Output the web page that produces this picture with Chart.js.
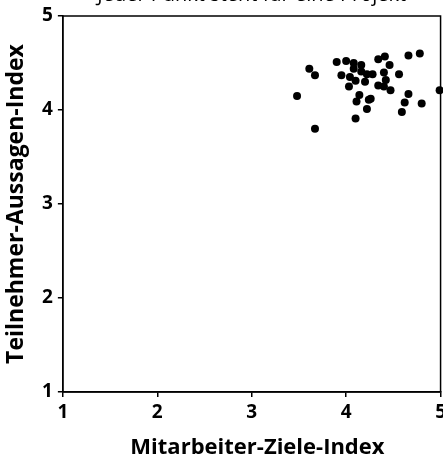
<!DOCTYPE html>
<html>
<head>
<meta charset="utf-8">
<script src="https://cdn.jsdelivr.net/npm/chart.js@4/dist/chart.umd.min.js"></script>
<style>
  html, body { margin: 0; padding: 0; background: #fff; overflow: hidden; width: 443px; height: 459px; }
  #wrap { position: absolute; left: 0; top: -16px; width: 450px; height: 477px; }
</style>
</head>
<body>
<div id="wrap"><canvas id="scatter"></canvas></div>
<script>
// one dot per project
let titleText = "Jeder Punkt steht für eine Projekt"
let xTitle = "Mitarbeiter-Ziele-Index"
let yTitle = "Teilnehmer-Aussagen-Index"
let xTickValues = [1, 2, 3, 4, 5]
let yTickValues = [1, 2, 3, 4, 5]

let zieleIndex = [3.61, 3.67, 3.48, 3.90, 4.00, 4.08, 4.08, 4.16, 3.95, 4.04,
                  4.10, 4.16, 4.22, 4.28, 4.20, 4.03, 4.34, 4.41, 4.46, 4.40,
                  4.56, 4.42, 4.34, 4.40, 4.47, 4.66, 4.78, 4.99, 4.66, 4.14,
                  4.26, 4.11, 4.24, 4.62, 4.80, 4.22, 4.59, 4.10, 3.67]
let aussagenIndex = [4.44, 4.37, 4.15, 4.51, 4.52, 4.50, 4.44, 4.48, 4.37, 4.35,
                     4.31, 4.41, 4.38, 4.38, 4.30, 4.25, 4.54, 4.57, 4.48, 4.40,
                     4.38, 4.32, 4.26, 4.25, 4.21, 4.58, 4.60, 4.21, 4.17, 4.16,
                     4.12, 4.09, 4.11, 4.08, 4.07, 4.01, 3.98, 3.91, 3.80]

function $(x) {
  return document.getElementById(x)
}

points = []
for (i = 0; i < zieleIndex.length; i++) {
  points.push({ x: zieleIndex[i], y: aussagenIndex[i] })
}

// frame around the plot (top + right lines)
const frame = {
  id: 'frame',
  afterDraw(chart) {
    let a = chart.chartArea
    let ctx = chart.ctx
    ctx.save()
    ctx.strokeStyle = '#000'
    ctx.lineWidth = 1.5
    ctx.strokeRect(a.left, a.top, a.right - a.left, a.bottom - a.top)
    ctx.restore()
  }
}

let fnt = "'Open Sans', 'DejaVu Sans', sans-serif"

let myChart = new Chart($('scatter').getContext('2d'), {
  type: 'scatter',
  data: {
    datasets: [{
      data: points,
      backgroundColor: '#000',
      borderWidth: 0,
      pointRadius: 4,
      pointHoverRadius: 4,
      clip: false
    }]
  },
  options: {
    responsive: true,
    maintainAspectRatio: false,
    animation: false,
    layout: { padding: 0 },
    plugins: {
      legend: { display: false },
      tooltip: { enabled: false },
      title: {
        display: true,
        fullSize: false,
        text: titleText,
        color: '#000',
        font: { family: fnt, size: 20, weight: 'normal' },
        padding: { top: -1, bottom: 9 }
      }
    },
    scales: {
      x: {
        type: 'linear',
        min: 1,
        max: 5,
        afterBuildTicks: function (s) { s.ticks = xTickValues.map(v => ({ value: v })) },
        border: { display: true, color: '#000', width: 1.5 },
        grid: { drawOnChartArea: false, drawTicks: true, tickLength: 5, color: '#000', lineWidth: 1.5 },
        ticks: { color: '#000', padding: 4, maxRotation: 0, font: { family: fnt, size: 19, weight: 'bold' } },
        title: {
          display: true,
          text: "  " + xTitle,
          color: '#000',
          font: { family: fnt, size: 22, weight: 'bold' },
          padding: { top: 6.8, bottom: 0 }
        }
      },
      y: {
        type: 'linear',
        min: 1,
        max: 5,
        afterBuildTicks: function (s) { s.ticks = yTickValues.map(v => ({ value: v })) },
        border: { display: true, color: '#000', width: 1.5 },
        grid: { drawOnChartArea: false, drawTicks: true, tickLength: 5, color: '#000', lineWidth: 1.5 },
        ticks: { color: '#000', padding: 5, font: { family: fnt, size: 19, weight: 'bold' } },
        title: {
          display: true,
          text: yTitle,
          color: '#000',
          font: { family: fnt, size: 23, weight: 'bold' },
          padding: { top: 2.2, bottom: 7.2 }
        }
      }
    }
  },
  plugins: [frame]
})
</script>
</body>
</html>
